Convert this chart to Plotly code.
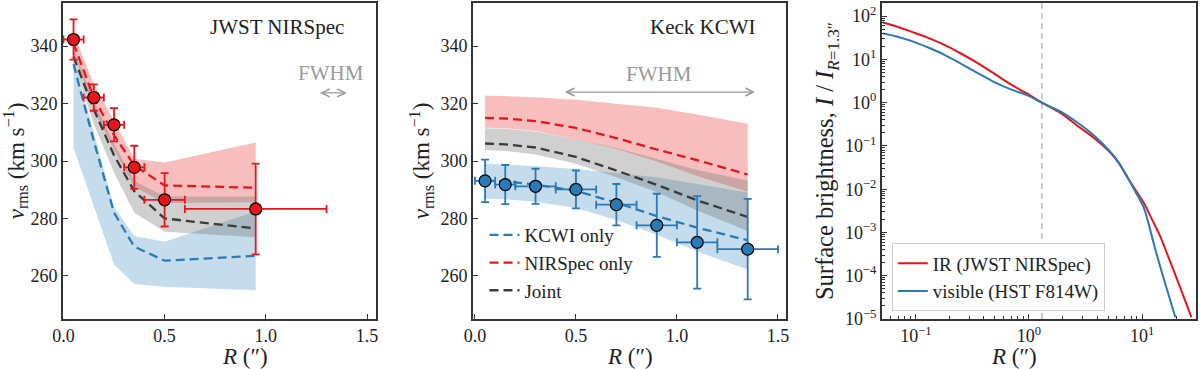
import plotly.graph_objects as go

# ── 왼쪽 패널: JWST NIRSpec ────────────────────────────────────────────
nir_r = [0.05, 0.15, 0.25, 0.35, 0.5, 0.95]
nir_v = [342.3, 322.1, 312.6, 297.8, 286.5, 283.3]
nir_verr = [7.0, 4.6, 5.8, 7.5, 9.3, 15.8]
nir_rerr = [0.05, 0.05, 0.05, 0.05, 0.1, 0.35]

nir_kcwi_mid = [333.7, 307.0, 282.0, 270.2, 265.3, 267.0]
nir_kcwi_hi = [335.0, 310.0, 284.0, 273.9, 271.9, 282.5]
nir_kcwi_lo = [304.5, 284.3, 264.0, 257.2, 256.2, 255.0]
nir_nirs_mid = [341.0, 322.0, 309.0, 298.5, 291.5, 290.7]
nir_nirs_hi = [344.3, 327.0, 314.0, 300.8, 299.5, 306.4]
nir_nirs_lo = [338.0, 318.0, 304.0, 291.0, 285.4, 285.6]
nir_joint_mid = [336.3, 318.0, 302.0, 289.5, 280.0, 276.5]
nir_joint_hi = [339.2, 321.0, 306.0, 293.0, 287.6, 287.6]
nir_joint_lo = [334.0, 313.0, 296.0, 282.0, 275.4, 273.5]

# ── 가운데 패널: Keck KCWI ─────────────────────────────────────────────
kc_r = [0.05, 0.15, 0.3, 0.5, 0.7, 0.9, 1.1, 1.35]
kc_v = [293.1, 291.8, 291.2, 290.1, 284.8, 277.6, 271.7, 269.3]
kc_verr = [7.4, 6.8, 6.1, 6.6, 7.2, 11.0, 16.1, 17.5]
kc_rerr = [0.05, 0.05, 0.1, 0.1, 0.1, 0.1, 0.1, 0.15]

kc_kcwi_mid = [293.2, 292.9, 291.8, 289.6, 285.5, 280.8, 276.8, 272.4]
kc_kcwi_hi = [299.0, 298.8, 298.2, 297.2, 295.8, 294.3, 292.0, 289.0]
kc_kcwi_lo = [286.9, 286.7, 285.8, 283.6, 279.5, 274.3, 268.5, 262.2]
kc_nirs_mid = [315.0, 314.8, 313.9, 311.5, 308.0, 304.0, 300.3, 295.3]
kc_nirs_hi = [322.8, 322.6, 322.2, 321.3, 320.0, 318.5, 316.2, 313.0]
kc_nirs_lo = [311.6, 311.4, 310.4, 307.6, 304.3, 299.8, 294.8, 289.3]
kc_joint_mid = [306.1, 305.8, 304.7, 301.4, 296.7, 291.7, 286.3, 280.5]
kc_joint_hi = [311.4, 311.2, 310.3, 307.6, 304.5, 300.7, 296.9, 293.2]
kc_joint_lo = [303.8, 303.5, 302.3, 299.0, 294.3, 289.2, 282.8, 275.6]

# ── 오른쪽 패널: 표면 밝기 (R=1.3″ 에서 정규화) ──────────────────────────
sb_ir_r = [0.051, 0.0648, 0.091, 0.127, 0.179, 0.250, 0.352, 0.493, 0.692, 0.970, 1.3,
           1.91, 2.68, 3.76, 5.26, 6.24, 7.40, 8.75, 10.4, 12.3, 14.5, 16.1, 20.4, 27.3]
sb_ir_i = [71.4, 60.0, 43.8, 31.9, 21.7, 13.7, 8.22, 4.70, 2.64, 1.61, 1.0,
           0.571, 0.293, 0.153, 0.0692, 0.0398, 0.0192, 0.00953, 0.00473, 0.00196,
           8.15e-4, 4.04e-4, 8.24e-5, 1.11e-5]
sb_vis_r = [0.051, 0.0648, 0.091, 0.127, 0.179, 0.250, 0.352, 0.493, 0.692, 0.970, 1.3,
            1.91, 2.68, 3.76, 5.26, 6.24, 7.40, 8.75, 10.4, 12.3, 13.1, 15.6, 19.7]
sb_vis_i = [40.0, 34.9, 26.8, 19.1, 12.8, 7.97, 4.85, 2.98, 2.03, 1.48, 1.0,
            0.622, 0.348, 0.174, 0.0724, 0.0407, 0.0192, 0.00872, 0.00364, 7.6e-4,
            4.04e-4, 8.3e-5, 1.10e-5]
R_NORM = 1.3

RED = "#e8161b"
BLUE = "#2a7ab8"
DARK = "#3a3a3a"
FONT = "'Liberation Serif', 'DejaVu Serif', serif"

fig = go.Figure()


def band(x, lo, hi, color, xa, ya):
    fig.add_trace(go.Scatter(
        x=list(x) + list(x)[::-1], y=list(hi) + list(lo)[::-1],
        fill="toself", fillcolor=color, line=dict(width=0),
        mode="lines", hoverinfo="skip", showlegend=False, xaxis=xa, yaxis=ya,
    ))


def dashed(x, y, color, xa, ya, name=None):
    fig.add_trace(go.Scatter(
        x=x, y=y, mode="lines", line=dict(color=color, width=2.3, dash="9px,5px"),
        name=name, showlegend=name is not None, legend="legend", xaxis=xa, yaxis=ya,
    ))


# 왼쪽
band(nir_r, nir_kcwi_lo, nir_kcwi_hi, "rgba(31,119,180,0.26)", "x", "y")
band(nir_r, nir_nirs_lo, nir_nirs_hi, "rgba(230,20,20,0.28)", "x", "y")
band(nir_r, nir_joint_lo, nir_joint_hi, "rgba(110,110,110,0.32)", "x", "y")
dashed(nir_r, nir_kcwi_mid, BLUE, "x", "y")
dashed(nir_r, nir_nirs_mid, RED, "x", "y")
dashed(nir_r, nir_joint_mid, DARK, "x", "y")
fig.add_trace(go.Scatter(
    x=nir_r, y=nir_v, mode="markers", showlegend=False,
    marker=dict(size=12, color=RED, line=dict(color="black", width=1.2)),
    error_y=dict(type="data", array=nir_verr, color=RED, thickness=1.8, width=4),
    error_x=dict(type="data", array=nir_rerr, color=RED, thickness=1.8, width=4),
    xaxis="x", yaxis="y",
))

# 가운데
band(kc_r, kc_kcwi_lo, kc_kcwi_hi, "rgba(31,119,180,0.26)", "x2", "y2")
band(kc_r, kc_nirs_lo, kc_nirs_hi, "rgba(230,20,20,0.28)", "x2", "y2")
band(kc_r, kc_joint_lo, kc_joint_hi, "rgba(110,110,110,0.32)", "x2", "y2")
dashed(kc_r, kc_kcwi_mid, BLUE, "x2", "y2", "KCWI only")
dashed(kc_r, kc_nirs_mid, RED, "x2", "y2", "NIRSpec only")
dashed(kc_r, kc_joint_mid, DARK, "x2", "y2", "Joint")
fig.add_trace(go.Scatter(
    x=kc_r, y=kc_v, mode="markers", showlegend=False,
    marker=dict(size=12, color=BLUE, line=dict(color="black", width=1.2)),
    error_y=dict(type="data", array=kc_verr, color=BLUE, thickness=1.8, width=4),
    error_x=dict(type="data", array=kc_rerr, color=BLUE, thickness=1.8, width=4),
    xaxis="x2", yaxis="y2",
))

# 오른쪽
fig.add_trace(go.Scatter(
    x=sb_ir_r, y=sb_ir_i, mode="lines", name="IR (JWST NIRSpec)",
    line=dict(color=RED, width=2, shape="spline", smoothing=0.8),
    legend="legend2", xaxis="x3", yaxis="y3",
))
fig.add_trace(go.Scatter(
    x=sb_vis_r, y=sb_vis_i, mode="lines", name="visible (HST F814W)",
    line=dict(color=BLUE, width=2, shape="spline", smoothing=0.8),
    legend="legend2", xaxis="x3", yaxis="y3",
))
fig.add_shape(type="line", xref="x3", yref="y3 domain", x0=R_NORM, x1=R_NORM, y0=0, y1=1,
              line=dict(color="#bbbbbb", width=1.5, dash="6px,4px"), layer="below")

# 축 공통 스타일
ax_common = dict(
    showline=True, linecolor="#333333", linewidth=1.6, mirror=True,
    ticks="inside", ticklen=5, tickcolor="#333333", showgrid=False, zeroline=False,
    tickfont=dict(family=FONT, size=18, color="#222"),
)
title_font = dict(family=FONT, size=23, color="#222")
v_title = "<i>v</i><sub>rms</sub> (km s<sup>−1</sup>)"

dec_minor = [m * 10 ** e for e in range(-6, 3) for m in range(2, 10)]

fig.update_layout(
    width=1200, height=369,
    margin=dict(l=63, r=1, t=1, b=50),
    plot_bgcolor="white", paper_bgcolor="white",
    font=dict(family=FONT, color="#222"),
    xaxis=dict(ax_common, domain=[0, 0.2764], range=[-0.002, 1.545],
               tickvals=[0, 0.5, 1.0, 1.5], ticktext=["0.0", "0.5", "1.0", "1.5"]),
    yaxis=dict(ax_common, range=[245, 355], tickvals=[260, 280, 300, 320, 340],
               title=dict(text=v_title, standoff=4, font=title_font)),
    xaxis2=dict(ax_common, domain=[0.3618, 0.6382], range=[-0.01, 1.54], anchor="y2",
                tickvals=[0, 0.5, 1.0, 1.5], ticktext=["0.0", "0.5", "1.0", "1.5"]),
    yaxis2=dict(ax_common, range=[245, 355], anchor="x2", tickvals=[260, 280, 300, 320, 340],
                title=dict(text=v_title, standoff=4, font=title_font)),
    xaxis3=dict(ax_common, domain=[0.7227, 1.0], type="log", range=[-1.301, 1.477], anchor="y3",
                tickvals=[0.1, 1, 10],
                ticktext=["10<sup>−1</sup>", "10<sup>0</sup>", "10<sup>1</sup>"],
                minor=dict(ticks="inside", ticklen=3, tickcolor="#333333",
                           tickmode="array", tickvals=dec_minor)),
    yaxis3=dict(ax_common, type="log", range=[-5, 2.304], anchor="x3",
                tickvals=[1e-5, 1e-4, 1e-3, 1e-2, 1e-1, 1, 10, 100],
                ticktext=["10<sup>−5</sup>", "10<sup>−4</sup>", "10<sup>−3</sup>", "10<sup>−2</sup>",
                          "10<sup>−1</sup>", "10<sup>0</sup>", "10<sup>1</sup>", "10<sup>2</sup>"],
                minor=dict(ticks="inside", ticklen=3, tickcolor="#333333",
                           tickmode="array", tickvals=dec_minor),
                title=dict(text="Surface brightness, <i>I</i> / <i>I</i><sub><i>R</i>=1.3″</sub>",
                           standoff=4, font=dict(family=FONT, size=24.5, color="#222"))),
    legend=dict(x=0.372, y=0.326, xanchor="left", yanchor="top", bgcolor="rgba(0,0,0,0)",
                borderwidth=0, font=dict(family=FONT, size=19, color="#222"),
                tracegroupgap=0),
    legend2=dict(x=0.7315, y=0.239, xanchor="left", yanchor="top", bgcolor="white",
                 bordercolor="#cccccc", borderwidth=1,
                 font=dict(family=FONT, size=19, color="#222")),
)

# x 축 제목 (잘림 방지를 위해 주석으로 배치)
for dom in ([0, 0.2764], [0.3618, 0.6382], [0.7227, 1.0]):
    fig.add_annotation(x=(dom[0] + dom[1]) / 2, y=-0.118, xref="paper", yref="paper",
                       text="<i>R</i> (″)", showarrow=False, yanchor="middle",
                       font=title_font)

# 주석
ann_font = dict(family=FONT, size=21, color="#222")
fwhm_font = dict(family=FONT, size=21, color="#999999")
fig.add_annotation(x=1.057, y=346.7, xref="x", yref="y", text="JWST NIRSpec",
                   showarrow=False, font=ann_font)
fig.add_annotation(x=1.128, y=346.7, xref="x2", yref="y2", text="Keck KCWI",
                   showarrow=False, font=ann_font)
fig.add_annotation(x=1.323, y=330.6, xref="x", yref="y", text="FWHM",
                   showarrow=False, font=fwhm_font)
fig.add_annotation(x=0.911, y=330.4, xref="x2", yref="y2", text="FWHM",
                   showarrow=False, font=fwhm_font)
for xa, ya, x0, x1, yv in [("x", "y", 1.26, 1.40, 323.7), ("x2", "y2", 0.438, 1.386, 324.0)]:
    fig.add_annotation(x=x1, y=yv, ax=x0, ay=yv, xref=xa, yref=ya, axref=xa, ayref=ya,
                       text="", showarrow=True, arrowhead=5, arrowside="end+start",
                       arrowsize=1.2, arrowwidth=1.3, arrowcolor="#999999",
                       standoff=0, startstandoff=0)

# 브라우저 기본 body 여백(8px) 제거, 모드바 숨김
fig.write_html("out.html", config={"displayModeBar": False},
               post_script="document.body.style.margin='0px';")
